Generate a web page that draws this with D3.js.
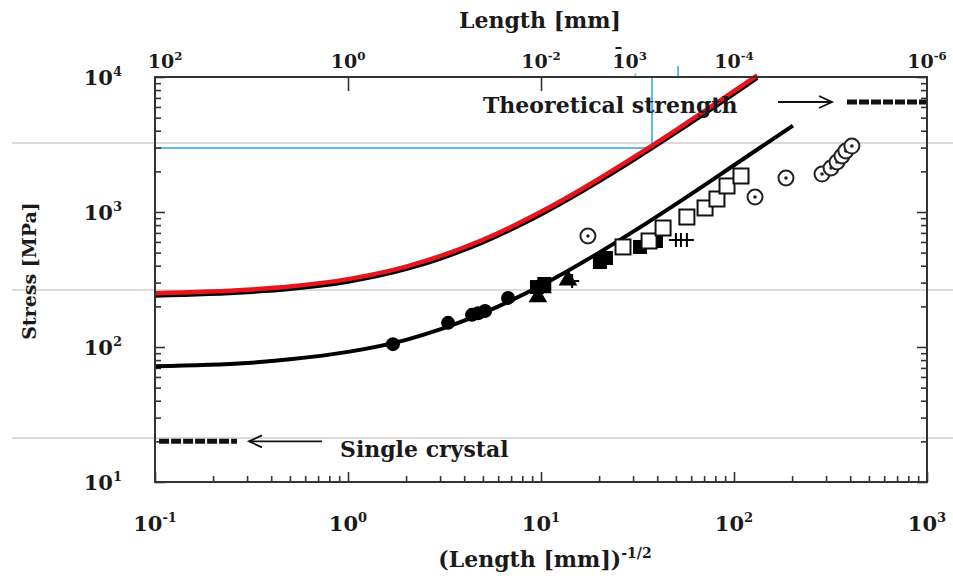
<!DOCTYPE html>
<html><head><meta charset="utf-8">
<script src="https://cdn.jsdelivr.net/npm/d3@7"></script>
<style>
body{margin:0;background:#fff}
svg{display:block}
text{font-family:"DejaVu Serif",serif;font-weight:bold;fill:#1a1a1a}
</style>
</head><body><svg id="c" width="953" height="582"></svg>
<script>
// ---- axis ticks ----
const xTickValues = [0.1, 1, 10, 100, 1000];
const xTickExp = ["-1", "0", "1", "2", "3"];
const yTickValues = [10, 100, 1000, 10000];
const yTickExp = ["1", "2", "3", "4"];
const topLengths = [1e2, 1, 1e-2, 1e-3, 1e-4, 1e-6];
const topExp = ["2", "0", "-2", "3", "-4", "-6"];
const topMajorTickLengths = [1, 1e-2];
const topBlueTickLengths = [1.05e-3, 3.8e-4];

// ---- Hall-Petch curves ----
const lowerCurveX = [0.1, 0.3, 0.5, 1, 2, 3, 5, 10, 20, 30, 50, 100, 202];
const lowerCurveY = [72, 76, 81, 92, 113, 135, 178, 285, 500, 715, 1145, 2220, 4370];
const upperCurveX = [0.1, 0.3, 0.5, 1, 2, 3, 5, 10, 20, 30, 50, 100, 132];
const upperCurveY = [247, 262, 277, 314, 389, 464, 614, 989, 1740, 2490, 3990, 7740, 10150];

// ---- reference levels ----
const singleCrystalX = [0.105, 0.266];
const singleCrystalStress = 20;
const theoreticalX = [385, 1000];
const theoreticalStress = 6530;
const blueMarkX = 37.6;
const blueMarkStress = 2980;
const guideStress = [3246, 264, 21.2];

// ---- measured data ----
const filledCircleX = [1.71, 3.30, 4.39, 4.72, 5.13, 6.75];
const filledCircleY = [105, 151, 173, 178, 185, 231];
const filledTriangleX = [9.64, 10.2, 13.8];
const filledTriangleY = [235, 274, 313];
const filledSquareX = [9.53, 10.4, 20.2, 21.7, 32.6, 39.4];
const filledSquareY = [278, 293, 426, 456, 551, 610];
const openSquareX = [26.6, 36.3, 42.9, 57.0, 70.8, 81.6, 92.0, 108.7];
const openSquareY = [551, 610, 761, 918, 1071, 1248, 1559, 1848];
const plusX = [14.5, 50.0, 53.1, 57.0];
const plusY = [308, 620, 620, 620];
const dotCircleX = [17.5, 128.5, 185.9, 285.8, 318.4, 341.9, 362.9, 380, 408];
const dotCircleY = [664, 1291, 1786, 1911, 2118, 2346, 2600, 2831, 3080];

const svg = d3.select("#c");
const L = 155, R = 927, T = 77, B = 482;
const x = d3.scaleLog().domain([0.1, 1000]).range([L, R]);
const y = d3.scaleLog().domain([10, 10000]).range([B, T]);
const xFromLen = l => x(Math.pow(l, -0.5));

// grey guide lines (scan artefacts spanning page)
svg.selectAll("line.guide").data(guideStress).enter().append("line")
  .attr("x1", 12).attr("x2", 953)
  .attr("y1", d => y(d)).attr("y2", d => y(d))
  .attr("stroke", "#d0d0d0").attr("stroke-width", 1.5);

// blue marker lines
const blue = "#2aa4e4";
svg.append("line").attr("x1", L).attr("x2", x(blueMarkX))
  .attr("y1", y(blueMarkStress)).attr("y2", y(blueMarkStress))
  .attr("stroke", blue).attr("stroke-width", 1.5);
svg.append("line").attr("x1", x(blueMarkX)).attr("x2", x(blueMarkX))
  .attr("y1", T).attr("y2", y(blueMarkStress))
  .attr("stroke", blue).attr("stroke-width", 1.5);
svg.selectAll("line.bt").data(topBlueTickLengths).enter().append("line")
  .attr("x1", d => xFromLen(d)).attr("x2", d => xFromLen(d))
  .attr("y1", (d, i) => i ? T - 11 : T - 4).attr("y2", T)
  .attr("stroke", blue).attr("stroke-width", (d, i) => i ? 1.5 : 2)
  .attr("opacity", (d, i) => i ? 1 : 0.5);

// axes (ticks inside)
const minorX = [];
for (let e = -1; e < 3; e++) for (let m = 1; m < 10; m++) minorX.push(m * Math.pow(10, e));
minorX.push(1000);
const minorY = [];
for (let e = 1; e < 4; e++) for (let m = 1; m < 10; m++) minorY.push(m * Math.pow(10, e));
minorY.push(10000);

function tickGroup(axisGen, tx, ty) {
  const g = svg.append("g").attr("transform", `translate(${tx},${ty})`).call(axisGen);
  g.select(".domain").remove();
  g.selectAll("line").attr("stroke", "#333").attr("stroke-width", 1.6);
  g.selectAll("text").remove();
  return g;
}
tickGroup(d3.axisBottom(x).tickValues(minorX.filter(v => !xTickValues.includes(v))).tickSize(-6), 0, B);
tickGroup(d3.axisBottom(x).tickValues(xTickValues).tickSize(-10), 0, B);
tickGroup(d3.axisLeft(y).tickValues(minorY.filter(v => !yTickValues.includes(v))).tickSize(-6), L, 0);
tickGroup(d3.axisLeft(y).tickValues(yTickValues).tickSize(-10), L, 0);
tickGroup(d3.axisRight(y).tickValues(minorY.filter(v => !yTickValues.includes(v))).tickSize(-6), R, 0);
tickGroup(d3.axisRight(y).tickValues(yTickValues).tickSize(-10), R, 0);
tickGroup(d3.axisTop(x).tickValues(topMajorTickLengths.map(l => Math.pow(l, -0.5))).tickSize(-14), 0, T);

// curves
const line = d3.line().x(d => x(d[0])).y(d => y(d[1])).curve(d3.curveMonotoneX);
const lower = lowerCurveX.map((v, i) => [v, lowerCurveY[i]]);
const upper = upperCurveX.map((v, i) => [v, upperCurveY[i]]);
svg.append("path").attr("d", line(lower)).attr("fill", "none")
  .attr("stroke", "#000").attr("stroke-width", 4);
svg.append("path").attr("d", line(upper)).attr("fill", "none")
  .attr("stroke", "#000").attr("stroke-width", 4.5).attr("transform", "translate(0,1.5)");
svg.append("path").attr("d", line(upper)).attr("fill", "none")
  .attr("stroke", "#e8141c").attr("stroke-width", 4.5).attr("transform", "translate(0,-0.8)");

// markers
const pts = (xs, ys) => xs.map((v, i) => [x(v), y(ys[i])]);
svg.selectAll("circle.fc").data(pts(filledCircleX, filledCircleY)).enter().append("circle")
  .attr("cx", d => d[0]).attr("cy", d => d[1]).attr("r", 7).attr("fill", "#000");
const tri = d3.symbol().type(d3.symbolTriangle).size(150);
svg.selectAll("path.ft").data(pts(filledTriangleX, filledTriangleY)).enter().append("path")
  .attr("d", tri).attr("transform", d => `translate(${d[0]},${d[1]})`).attr("fill", "#000");
svg.selectAll("rect.fs").data(pts(filledSquareX, filledSquareY)).enter().append("rect")
  .attr("x", d => d[0] - 7).attr("y", d => d[1] - 7).attr("width", 14).attr("height", 14).attr("fill", "#000");
svg.selectAll("rect.os").data(pts(openSquareX, openSquareY)).enter().append("rect")
  .attr("x", d => d[0] - 7.5).attr("y", d => d[1] - 7.5).attr("width", 15).attr("height", 15)
  .attr("fill", "#fff").attr("stroke", "#111").attr("stroke-width", 2);
const plusG = svg.selectAll("g.pl").data(pts(plusX, plusY)).enter().append("g")
  .attr("transform", d => `translate(${d[0]},${d[1]})`);
plusG.append("line").attr("x1", -7).attr("x2", 7).attr("stroke", "#000").attr("stroke-width", 2);
plusG.append("line").attr("y1", -7).attr("y2", 7).attr("stroke", "#000").attr("stroke-width", 2);
const dc = svg.selectAll("g.dc").data(pts(dotCircleX, dotCircleY)).enter().append("g")
  .attr("transform", d => `translate(${d[0]},${d[1]})`);
dc.append("circle").attr("r", 7.5).attr("fill", "#fff").attr("stroke", "#222").attr("stroke-width", 2);
dc.append("circle").attr("r", 1.8).attr("fill", "#222");

// reference levels (dashed)
svg.append("line").attr("x1", x(singleCrystalX[0])).attr("x2", x(singleCrystalX[1]))
  .attr("y1", y(singleCrystalStress)).attr("y2", y(singleCrystalStress))
  .attr("stroke", "#111").attr("stroke-width", 5).attr("stroke-dasharray", "10,2");
svg.append("line").attr("x1", x(theoreticalX[0])).attr("x2", x(theoreticalX[1]))
  .attr("y1", y(theoreticalStress)).attr("y2", y(theoreticalStress))
  .attr("stroke", "#111").attr("stroke-width", 5).attr("stroke-dasharray", "10,2");

// arrows
function arrow(x1, x2, yy, dir) {
  svg.append("line").attr("x1", x1).attr("x2", x2).attr("y1", yy).attr("y2", yy)
    .attr("stroke", "#111").attr("stroke-width", 1.8);
  const tip = dir < 0 ? Math.min(x1, x2) : Math.max(x1, x2);
  const back = tip - dir * 13;
  svg.append("path").attr("d", `M${back},${yy - 6}L${tip},${yy}L${back},${yy + 6}`)
    .attr("fill", "none").attr("stroke", "#111").attr("stroke-width", 1.8);
}
arrow(x(0.307), x(0.733), y(singleCrystalStress), -1);
arrow(x(169), x(322), y(theoreticalStress), 1);

svg.append("text").attr("x", 340).attr("y", 457).attr("font-size", 22).text("Single crystal");
svg.append("text").attr("x", 483).attr("y", 113).attr("font-size", 22).text("Theoretical strength");

// frame
svg.append("rect").attr("x", L).attr("y", T).attr("width", R - L).attr("height", B - T)
  .attr("fill", "none").attr("stroke", "#333").attr("stroke-width", 2);

// tick labels
function powLabel(px, py, exp, size, anchor) {
  const t = svg.append("text").attr("x", px).attr("y", py).attr("font-size", size)
    .attr("text-anchor", anchor || "middle");
  t.append("tspan").text("10");
  t.append("tspan").attr("dy", -size * 0.42).attr("font-size", size * 0.62).text(exp);
  return t;
}
xTickValues.forEach((v, i) => powLabel(x(v), 531, xTickExp[i], 21));
yTickValues.forEach((v, i) => powLabel(122, y(v) + 8, yTickExp[i], 21, "end"));
topLengths.forEach((l, i) => {
  let px = xFromLen(l);
  if (i === 0) px += 10;
  if (l === 1e-3) px -= 8;
  powLabel(px, 68, topExp[i], 19);
  if (l === 1e-3) {
    svg.append("line").attr("x1", px - 14).attr("x2", px - 8).attr("y1", 48).attr("y2", 48)
      .attr("stroke", "#1a1a1a").attr("stroke-width", 2);
  }
});

// axis titles
svg.append("text").attr("x", 540).attr("y", 28).attr("font-size", 22).attr("text-anchor", "middle").text("Length [mm]");
const bt = svg.append("text").attr("x", 545).attr("y", 567).attr("font-size", 22).attr("text-anchor", "middle");
bt.append("tspan").text("(Length [mm])");
bt.append("tspan").attr("dy", -9).attr("font-size", 14).text("-1/2");
svg.append("text").attr("transform", "translate(36,271) rotate(-90)").attr("font-size", 19)
  .attr("text-anchor", "middle").text("Stress [MPa]");
</script>
</body></html>
